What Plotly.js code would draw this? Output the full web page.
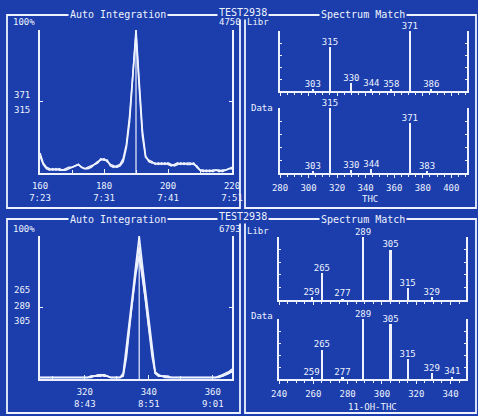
<!DOCTYPE html>
<html><head><meta charset="utf-8">
<script src="https://cdn.plot.ly/plotly-3.0.1.min.js"></script>
<style>html,body{margin:0;padding:0;background:#1b3eac;}#chart{width:478px;height:416px;}</style>
</head><body><div id="chart"></div>
<script>
// ---- data ----
const scansTop = [160,161,162,163,164,165,166,167,168,169,170,171,172,173,174,175,176,177,178,179,180,181,182,183,184,185,186,187,188,189,190,191,192,193,194,195,196,197,198,199,200,201,202,203,204,205,206,207,208,209,210,211,212,213,214,215,216,217,218,219,220];
const ion371 = [14,7,4,3,2,3,2,2,3,4,4,5,6,4,3,4,5,6,8,9,10,8,6,5,4,5,8,18,36,68,100,64,30,12,8,7,7,6,7,6,7,6,5,6,7,6,7,7,6,5,2,1,2,1,2,2,1,2,2,3,3];
const ion315 = [12,6,3,2,3,2,3,2,2,3,4,5,6,4,3,3,4,6,7,10,9,9,5,4,5,6,10,20,40,72,97,60,26,11,9,8,6,7,6,7,6,5,6,7,6,7,6,6,7,4,2,2,1,2,1,2,2,1,2,3,4];
const scansBottom = [306,307,308,309,310,311,312,313,314,315,316,317,318,319,320,321,322,323,324,325,326,327,328,329,330,331,332,333,334,335,336,337,338,339,340,341,342,343,344,345,346,347,348,349,350,351,352,353,354,355,356,357,358,359,360,361,362,363,364,365,366];
const ion265 = [1,1,1,1,1,1,1,1,1,1,1,1,1,1,1,1,2,2,3,3,3,2,1,1,1,1,4,22,42,61,81,100,80,61,41,22,5,3,2,2,2,1,1,1,1,1,1,1,1,1,1,1,1,1,1,1,2,3,4,5,7];
const ion289 = [1,1,1,1,1,1,1,1,1,1,1,1,1,1,1,1,1,2,2,3,2,2,1,1,1,1,2,15,36,58,78,92,74,54,34,16,4,2,2,1,1,1,1,1,1,1,1,1,1,1,1,1,1,1,1,1,1,2,3,4,6];
const ion305 = [1,1,1,1,1,1,1,1,1,1,1,1,1,1,1,1,2,2,2,2,3,2,1,1,1,1,3,18,38,57,74,86,72,55,36,18,4,3,2,2,1,1,1,1,1,1,1,1,1,1,1,1,1,1,1,1,2,2,3,4,5];
const tickValsTop = [160,180,200,220];
const tickTextTop = ['160<br>7:23','180<br>7:31','200<br>7:41','220<br>7:51'];
const tickValsBottom = [320,340,360];
const tickTextBottom = ['320<br>8:43','340<br>8:51','360<br>9:01'];
const thcLibrMz = [303,315,330,344,358,371,386];
const thcLibrInt = [3,73,13,4,3,100,3];
const thcDataMz = [303,315,330,344,371,383];
const thcDataInt = [3,100,4,6,77,3];
const ohLibrMz = [259,265,277,289,305,315,329];
const ohLibrInt = [5,43,2,100,80,19,4];
const ohDataMz = [259,265,277,289,305,315,329,341];
const ohDataInt = [3,49,3,100,92,33,10,4];

// ---- style ----
const BG = '#1b3eac';
const FG = '#eef2ff';
const FONT = 'DejaVu Sans Mono';
const W = 478, H = 416;
const px = v => v / W;
const py = v => 1 - v / H;

const traces = [];
function chrom(xs, ys, xa, ya) {
  traces.push({type:'scatter', mode:'lines', x:xs, y:ys, xaxis:xa, yaxis:ya,
    line:{color:FG, width:1.6}, hoverinfo:'skip'});
}
chrom(scansTop, ion371, 'x', 'y');
chrom(scansTop, ion315, 'x', 'y');
chrom(scansBottom, ion265, 'x2', 'y2');
chrom(scansBottom, ion289, 'x2', 'y2');
chrom(scansBottom, ion305, 'x2', 'y2');

function spectrum(mz, inten, xa, ya, w) {
  traces.push({type:'bar', x:mz, y:inten, xaxis:xa, yaxis:ya, width:w,
    marker:{color:FG, line:{width:0}}, hoverinfo:'skip'});
  traces.push({type:'scatter', mode:'text', x:mz, y:inten, xaxis:xa, yaxis:ya,
    text:mz.map(String), textposition:'top center', cliponaxis:false,
    textfont:{family:FONT, size:9, color:FG}, hoverinfo:'skip'});
}
spectrum(thcLibrMz, thcLibrInt, 'x3', 'y3', 1.4);
spectrum(thcDataMz, thcDataInt, 'x4', 'y4', 1.4);
spectrum(ohLibrMz, ohLibrInt, 'x5', 'y5', 1.2);
spectrum(ohDataMz, ohDataInt, 'x6', 'y6', 1.2);

const tickFont = {family:FONT, size:9, color:FG};
function chromX(dom, range, vals, text, anchor) {
  return {domain:dom, range:range, anchor:anchor, showline:true, linecolor:FG, linewidth:2,
    showgrid:false, zeroline:false, tickmode:'array', tickvals:vals, ticktext:text,
    ticks:'inside', ticklen:4, tickcolor:FG, tickfont:tickFont, ticklabelstandoff:3,
    minor:{dtick:10, ticks:'inside', ticklen:3, tickcolor:FG, showgrid:false}};
}
function chromY(dom, anchor) {
  return {domain:dom, range:[0,100], anchor:anchor, showline:true, mirror:'ticks', linecolor:FG, linewidth:2,
    showgrid:false, zeroline:false, tickmode:'array', tickvals:[50], ticks:'inside', ticklen:3,
    tickcolor:FG, showticklabels:false};
}
function specX(dom, range, tick0, anchor, labels) {
  return {domain:dom, range:range, anchor:anchor, showline:true, linecolor:FG, linewidth:2,
    showgrid:false, zeroline:false, tick0:tick0, dtick:20, ticks:'outside', ticklen:3, tickcolor:FG,
    showticklabels:labels, tickfont:tickFont, ticklabelstandoff:2,
    minor:{dtick:5, ticks:'outside', ticklen:2, tickcolor:FG, showgrid:false}};
}
function specY(dom, anchor) {
  return {domain:dom, range:[0,100], anchor:anchor, showline:true, mirror:'ticks', linecolor:FG, linewidth:2,
    showgrid:false, zeroline:false, dtick:20, ticks:'inside', ticklen:2, tickcolor:FG, showticklabels:false};
}

const chromDomX = [px(40), px(232)];
const specDomTop = [px(280), px(467)];
const specDomBot = [px(279), px(466)];

function argmaxX(xs, ys) { let b = 0; ys.forEach((v,i)=>{ if (v > ys[b]) b = i; }); return xs[b]; }

function ann(text, x, y, opts) {
  return Object.assign({text:text, x:px(x), y:py(y), xref:'paper', yref:'paper', showarrow:false,
    font:{family:FONT, size:9, color:FG}, xanchor:'center', yanchor:'middle'}, opts||{});
}
function title(text, x, y) {
  return ann(text, x, y, {font:{family:FONT, size:10, color:FG}, bgcolor:BG, borderpad:1});
}
function frame(x0, y0, x1, y1) {
  return {type:'rect', xref:'paper', yref:'paper', x0:px(x0), x1:px(x1), y0:py(y1), y1:py(y0),
    line:{color:FG, width:1.8}, layer:'below'};
}

const layout = {
  width:W, height:H, margin:{l:0, r:0, t:0, b:0},
  paper_bgcolor:BG, plot_bgcolor:BG, showlegend:false, bargap:0,
  font:{family:FONT, color:FG},
  xaxis: chromX(chromDomX, [160,220], tickValsTop, tickTextTop, 'y'),
  yaxis: chromY([py(173), py(30)], 'x'),
  xaxis2: chromX(chromDomX, [306,366], tickValsBottom, tickTextBottom, 'y2'),
  yaxis2: chromY([py(379), py(236)], 'x2'),
  xaxis3: specX(specDomTop, [280,411], 280, 'y3', false),
  yaxis3: specY([py(91), py(31)], 'x3'),
  xaxis4: specX(specDomTop, [280,411], 280, 'y4', true),
  yaxis4: specY([py(173), py(108)], 'x4'),
  xaxis5: specX(specDomBot, [240,349], 240, 'y5', false),
  yaxis5: specY([py(300), py(237)], 'x5'),
  xaxis6: specX(specDomBot, [240,349], 240, 'y6', true),
  yaxis6: specY([py(379), py(319)], 'x6'),
  shapes: [
    frame(7, 15, 240, 208), frame(245, 15, 476, 208),
    frame(7, 219, 240, 413), frame(245, 219, 476, 413),
    {type:'line', xref:'x', yref:'y', x0:argmaxX(scansTop, ion371), x1:argmaxX(scansTop, ion371), y0:0, y1:100, line:{color:FG, width:1.2}},
    {type:'line', xref:'x2', yref:'y2', x0:argmaxX(scansBottom, ion265), x1:argmaxX(scansBottom, ion265), y0:0, y1:100, line:{color:FG, width:1.2}}
  ],
  annotations: [
    title('Auto Integration', 118, 15), title('TEST2938', 243, 12), title('Spectrum Match', 363, 15),
    title('Auto Integration', 118, 219), title('TEST2938', 243, 216), title('Spectrum Match', 363, 219),
    ann('100%', 24, 22), ann('4750', 230, 22),
    ann('371', 22, 95), ann('315', 22, 110),
    ann('100%', 24, 229), ann('6793', 230, 229),
    ann('265', 22, 290), ann('289', 22, 306), ann('305', 22, 321),
    ann('Libr', 258, 22), ann('Data', 262, 108),
    ann('Libr', 258, 231), ann('Data', 262, 316),
    ann('THC', 370, 199), ann('11-OH-THC', 372, 407)
  ]
};

Plotly.newPlot('chart', traces, layout, {staticPlot:true, displayModeBar:false});
</script>
</body></html>
